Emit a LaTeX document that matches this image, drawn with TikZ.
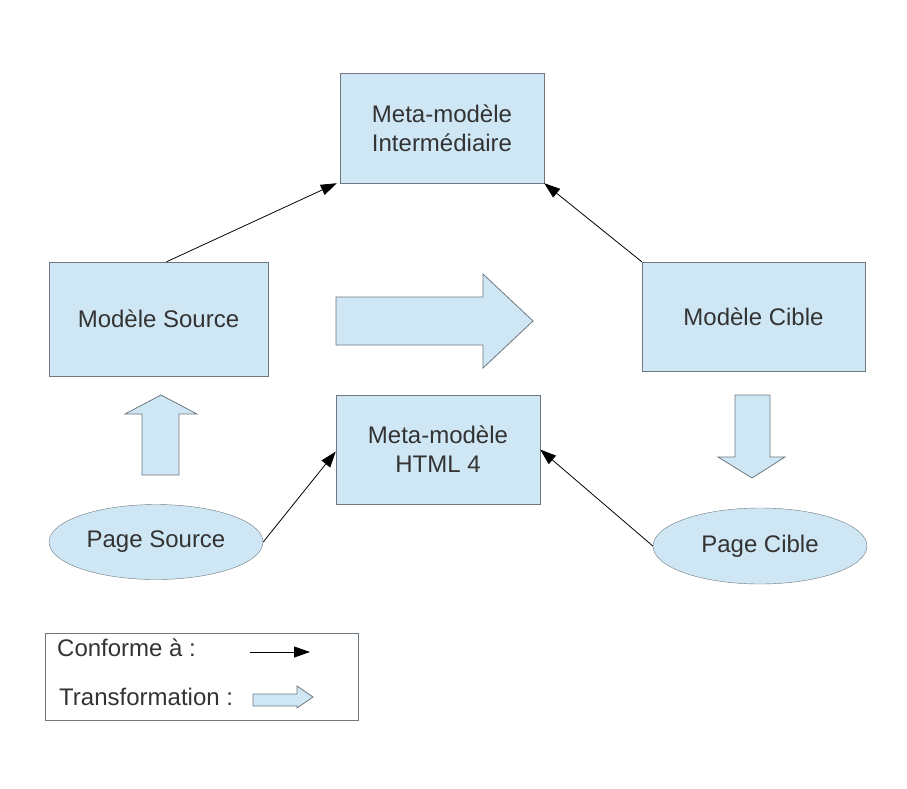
\documentclass[tikz,border=0pt]{standalone}
\usepackage{fontspec}
\setmainfont{Liberation Sans}
\usetikzlibrary{positioning}
\usetikzlibrary{arrows.meta}
\usetikzlibrary{calc, shapes.geometric}
\definecolor{boxfill}{RGB}{207,231,245}
\definecolor{boxline}{RGB}{110,120,128}
\definecolor{txtgray}{RGB}{51,51,51}
\tikzset{%
	% Specifications for style of nodes:
	base/.style = {draw=boxline, fill=boxfill, text=txtgray,
		inner sep=0pt, align=center,
		font=\fontsize{24}{29}\selectfont},
	modelbox/.style = {base, rectangle},
	pagenode/.style = {base, ellipse, minimum width=214pt, minimum height=75pt},
	legendtext/.style = {text=txtgray, anchor=west, inner sep=0pt,
		font=\fontsize{24}{29}\selectfont},
	conform/.style = {-{Triangle[length=16pt,width=11pt]}, black, line width=0.8pt},
	transfo/.style = {draw=boxline, fill=boxfill, line width=0.8pt},
}

\begin{document}
\begin{tikzpicture}[x=1pt, y=-1pt]
	\useasboundingbox (0,0) rectangle (907,788);
	
	\node (inter) [modelbox, minimum width=204pt, minimum height=110pt] at (442,128) {Meta-modèle\\Intermédiaire};
	\node (source) [modelbox, minimum width=219pt, minimum height=114pt] at (158.5,319) {Modèle Source};
	\node (cible) [modelbox, minimum width=223pt, minimum height=109pt] at (753.5,316.5) {Modèle Cible};
	\node (html) [modelbox, minimum width=204pt, minimum height=109pt] at (438,449.5) {Meta-modèle\\HTML 4};
	\node (psource) [pagenode] at (156,542) {Page Source};
	\node (pcible) [pagenode, minimum height=76pt] at (760,546) {Page Cible};
	
	% conformity links
	\draw [conform] ([xshift=8pt]source.north) -- ([xshift=-3pt]inter.south west);
	\draw [conform] (cible.north west) -- (inter.south east);
	\draw [conform] (psource.east) -- ([yshift=-2pt]html.west);
	\draw [conform] (pcible.west) -- (html.east);
	
	% transformations
	\draw [transfo] (336,297) -- (483,297) -- (483,274) -- (533,321) -- (483,368) -- (483,345) -- (336,345) -- cycle;
	\draw [transfo] (142,475) -- (142,414) -- (125,414) -- (161,395) -- (197,414) -- (179,414) -- (179,475) -- cycle;
	\draw [transfo] (735,395) -- (770,395) -- (770,457) -- (785,457) -- (752,478) -- (718,457) -- (735,457) -- cycle;
	
	% legend
	\node (legend) [draw=boxline, line width=0.8pt, minimum width=313pt, minimum height=87pt, inner sep=0pt] at (201.5,676.5) {};
	\node (lconf) [legendtext] at (57,648) {Conforme à :};
	\node (ltrans) [legendtext] at (59,697) {Transformation :};
	\coordinate (confA) at (250,652);
	\coordinate (confB) at (310,652);
	\draw [conform] (confA) -- (confB);
	\draw [transfo] (253,694) -- (297,694) -- (297,686) -- (313,697) -- (297,708) -- (297,706) -- (253,706) -- cycle;
\end{tikzpicture}
\end{document}
